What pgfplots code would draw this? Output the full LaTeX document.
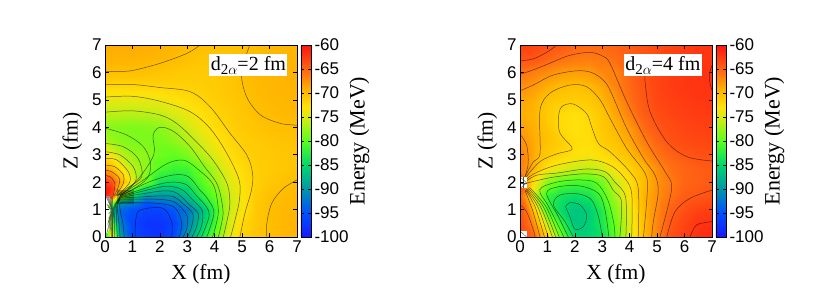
\documentclass[border=0pt]{standalone}
\usepackage{pgfplots}
\pgfplotsset{compat=1.18}
\usepackage{fontspec}
\setmainfont{Liberation Serif}
\newfontfamily\lsans{Liberation Sans}
\newcommand{\dsub}{d\raisebox{-4pt}{\fontsize{15}{15}\selectfont 2$\alpha$}}
\pgfplotsset{
  colormap={energy}{
    rgb255(0pt)=(25,25,255) rgb255(5pt)=(0,80,255) rgb255(10pt)=(0,150,170)
    rgb255(15pt)=(0,215,110) rgb255(18pt)=(50,240,60) rgb255(20pt)=(90,255,30)
    rgb255(25pt)=(215,235,20) rgb255(27pt)=(255,225,10) rgb255(30pt)=(255,190,0)
    rgb255(35pt)=(255,100,20) rgb255(40pt)=(255,20,15)},
  cl/.style={no marks,smooth,tension=0.55,draw=black,draw opacity=0.58,line width=0.5pt,forget plot},
  gl/.style={no marks,draw=gray!60!black,line width=0.4pt,forget plot},
  panel/.style={
    scale only axis,width=192pt,height=192pt,xmin=0,xmax=7,ymin=0,ymax=7,
    anchor=south west,axis on top,
    xtick={0,...,7},ytick={0,...,7},tick align=inside,tick pos=both,
    major tick length=3.5pt,
    xticklabel pos=bottom,yticklabel pos=left,
    tick style={black,line width=0.5pt},
    axis line style={line width=0.7pt},
    /pgf/number format/assume math mode=true,
    tick label style={font=\fontsize{17}{17}\selectfont\lsans},
    label style={font=\fontsize{21.5}{21.5}\selectfont},
    xlabel={X (fm)},ylabel={Z (fm)},
    xlabel style={at={(axis description cs:0.5,-0.125)},anchor=north},
    ylabel style={at={(axis description cs:-0.1,0.5)},anchor=south},
    colormap name=energy,point meta min=-100,point meta max=-60,
    colorbar,
    colorbar style={
      at={(1.0208,0)},anchor=south west,width=10pt,height=192pt,
      ytick={-100,-95,...,-60},tick align=inside,
      major tick length=3pt,
      ytick pos=both,yticklabel pos=right,
      /pgf/number format/assume math mode=true,
      yticklabel style={font=\fontsize{17}{17}\selectfont\lsans,/pgf/number format/fixed},
      ylabel={Energy (MeV)},
      ylabel style={font=\fontsize{22}{22}\selectfont,at={(axis description cs:7.2,0.5)},anchor=south},
    },
  },
}
\begin{document}
\begin{tikzpicture}[x=1pt,y=1pt]
\useasboundingbox (0,0) rectangle (830,291);
% ---------------- left panel
\begin{axis}[panel,at={(105pt,54pt)}]
\addplot[surf,shader=interp,point meta=explicit,mesh/rows=17,mesh/ordering=x varies,forget plot]
 table[x index=0,y index=1,meta index=2,row sep=\\,header=false]{
0 0 -85\\.25 0 -72\\.5 0 -88\\1 0 -95.5\\1.5 0 -97\\2 0 -97.5\\2.5 0 -95.6\\3 0 -90\\3.5 0 -84.2\\4 0 -79.2\\4.5 0 -74.6\\5 0 -71.6\\5.5 0 -70.6\\6 0 -69.95\\6.5 0 -69.7\\7 0 -69.5\\
0 .5 -80\\.25 .5 -78\\.5 .5 -91\\1 .5 -96\\1.5 .5 -97.5\\2 .5 -97.7\\2.5 .5 -96.2\\3 .5 -91.5\\3.5 .5 -86\\4 .5 -81\\4.5 .5 -75.4\\5 .5 -72.2\\5.5 .5 -70.7\\6 .5 -69.95\\6.5 .5 -69.6\\7 .5 -69.4\\
0 1 -75\\.25 1 -85\\.5 1 -93\\1 1 -95\\1.5 1 -96.3\\2 1 -96.2\\2.5 1 -94.5\\3 1 -92.5\\3.5 1 -87.5\\4 1 -81.6\\4.5 1 -76\\5 1 -73.2\\5.5 1 -70.9\\6 1 -69.95\\6.5 1 -69.7\\7 1 -69.6\\
0 1.25 -75\\.25 1.25 -78\\.5 1.25 -90\\1 1.25 -92\\1.5 1.25 -94.8\\2 1.25 -93.6\\2.5 1.25 -92.4\\3 1.25 -89.6\\3.5 1.25 -85\\4 1.25 -80.6\\4.5 1.25 -76\\5 1.25 -73.4\\5.5 1.25 -71\\6 1.25 -70.05\\6.5 1.25 -69.8\\7 1.25 -69.65\\
0 1.5 -61\\.25 1.5 -63\\.5 1.5 -76\\1 1.5 -84\\1.5 1.5 -90\\2 1.5 -90\\2.5 1.5 -89.6\\3 1.5 -87\\3.5 1.5 -82.6\\4 1.5 -79.6\\4.5 1.5 -75.8\\5 1.5 -73.3\\5.5 1.5 -71.2\\6 1.5 -70.15\\6.5 1.5 -69.85\\7 1.5 -69.7\\
0 1.75 -60\\.25 1.75 -62\\.5 1.75 -70\\1 1.75 -80\\1.5 1.75 -85\\2 1.75 -87\\2.5 1.75 -86.8\\3 1.75 -85.2\\3.5 1.75 -81.4\\4 1.75 -78.6\\4.5 1.75 -75.4\\5 1.75 -73.1\\5.5 1.75 -71.3\\6 1.75 -70.5\\6.5 1.75 -70\\7 1.75 -69.8\\
0 2 -62\\.25 2 -64\\.5 2 -68\\1 2 -74\\1.5 2 -79\\2 2 -83.7\\2.5 2 -84\\3 2 -83.4\\3.5 2 -80.4\\4 2 -77.4\\4.5 2 -75\\5 2 -73\\5.5 2 -71.5\\6 2 -70.8\\6.5 2 -70.3\\7 2 -70.05\\
0 2.5 -68.5\\.25 2.5 -70\\.5 2.5 -72.5\\1 2.5 -76\\1.5 2.5 -78\\2 2.5 -80.5\\2.5 2.5 -81.5\\3 2.5 -81.2\\3.5 2.5 -79\\4 2.5 -76.4\\4.5 2.5 -73.9\\5 2.5 -72.4\\5.5 2.5 -71.4\\6 2.5 -71\\6.5 2.5 -70.7\\7 2.5 -70.5\\
0 3 -73\\.25 3 -74\\.5 3 -75.6\\1 3 -77.4\\1.5 3 -78\\2 3 -79.2\\2.5 3 -79.7\\3 3 -78.8\\3.5 3 -76.4\\4 3 -74.6\\4.5 3 -72.9\\5 3 -71.8\\5.5 3 -71.2\\6 3 -70.9\\6.5 3 -70.7\\7 3 -70.6\\
0 3.5 -76.5\\.25 3.5 -77.5\\.5 3.5 -78\\1 3.5 -78.6\\1.5 3.5 -78.6\\2 3.5 -78.9\\2.5 3.5 -78\\3 3.5 -76.6\\3.5 3.5 -75\\4 3.5 -73.4\\4.5 3.5 -72.3\\5 3.5 -71.4\\5.5 3.5 -71\\6 3.5 -70.6\\6.5 3.5 -70.4\\7 3.5 -70.3\\
0 4 -78\\.25 4 -78.2\\.5 4 -78.4\\1 4 -78.6\\1.5 4 -78.4\\2 4 -78\\2.5 4 -76.8\\3 4 -75.4\\3.5 4 -73.8\\4 4 -72.6\\4.5 4 -71.6\\5 4 -71\\5.5 4 -70.5\\6 4 -70.2\\6.5 4 -70.05\\7 4 -70\\
0 4.5 -76.1\\.25 4.5 -76.2\\.5 4.5 -76.2\\1 4.5 -76.3\\1.5 4.5 -76.2\\2 4.5 -75.9\\2.5 4.5 -75\\3 4.5 -74.1\\3.5 4.5 -73\\4 4.5 -72\\4.5 4.5 -71.3\\5 4.5 -70.8\\5.5 4.5 -70.1\\6 4.5 -69.9\\6.5 4.5 -69.7\\7 4.5 -69.6\\
0 5 -74.3\\.25 5 -74.3\\.5 5 -74.3\\1 5 -74.3\\1.5 5 -74.2\\2 5 -73.9\\2.5 5 -73.2\\3 5 -72.6\\3.5 5 -72\\4 5 -71.4\\4.5 5 -70.9\\5 5 -70.5\\5.5 5 -69.95\\6 5 -69.7\\6.5 5 -69.6\\7 5 -69.5\\
0 5.5 -72\\.25 5.5 -72\\.5 5.5 -72\\1 5.5 -71.9\\1.5 5.5 -71.8\\2 5.5 -71.8\\2.5 5.5 -71.7\\3 5.5 -71.6\\3.5 5.5 -71.4\\4 5.5 -71.1\\4.5 5.5 -70.7\\5 5.5 -70.2\\5.5 5.5 -69.8\\6 5.5 -69.6\\6.5 5.5 -69.5\\7 5.5 -69.4\\
0 6 -70.1\\.25 6 -70.1\\.5 6 -70.1\\1 6 -70.1\\1.5 6 -70.3\\2 6 -70.5\\2.5 6 -70.8\\3 6 -71\\3.5 6 -71.1\\4 6 -71.1\\4.5 6 -70.8\\5 6 -70\\5.5 6 -69.7\\6 6 -69.5\\6.5 6 -69.4\\7 6 -69.3\\
0 6.5 -69.4\\.25 6.5 -69.4\\.5 6.5 -69.4\\1 6.5 -69.4\\1.5 6.5 -69.5\\2 6.5 -69.6\\2.5 6.5 -69.8\\3 6.5 -70.2\\3.5 6.5 -70.6\\4 6.5 -70.8\\4.5 6.5 -70.6\\5 6.5 -70.1\\5.5 6.5 -69.8\\6 6.5 -69.6\\6.5 6.5 -69.5\\7 6.5 -69.4\\
0 7 -69\\.25 7 -69\\.5 7 -69\\1 7 -69\\1.5 7 -69.1\\2 7 -69.3\\2.5 7 -69.5\\3 7 -69.8\\3.5 7 -70\\4 7 -70.2\\4.5 7 -70.4\\5 7 -70.2\\5.5 7 -70\\6 7 -69.7\\6.5 7 -69.6\\7 7 -69.5\\
};
% darkened cell where the contours crowd
\addplot[fill=black,fill opacity=0.3,draw=none,forget plot] coordinates {(.45,1.22)(1.05,1.22)(1.05,1.72)(.45,1.72)};
% contours
\addplot[cl] coordinates {(0,6.03)(.5,6.04)(1,6.07)(2,6.33)(3,6.7)(3.46,7)};
\addplot[cl] coordinates {(5.28,7)(4.98,5.97)(5.17,5.1)(5.67,4.45)(6.4,4.14)(7,4.08)};
\addplot[cl] coordinates {(7,2.08)(6.5,1.77)(6.08,1.23)(5.9,.5)(5.9,0)};
\addplot[cl] coordinates {(0,5.55)(1,5.56)(2,5.45)(3.1,5.3)(3.83,4.75)(4.56,3.78)(5.17,2.99)(5.38,2.32)(5.34,1.71)(5.1,.86)(4.92,0)};
\addplot[cl] coordinates {(0,5.1)(1,5.13)(2,4.95)(3.1,4.57)(3.83,3.96)(4.44,3.05)(4.89,2.08)(4.9,1.35)(4.74,.62)(4.58,0)};
\addplot[cl] coordinates {(0,4.55)(1,4.6)(2,4.45)(2.6,4.15)(3.2,3.6)(3.9,2.85)(4.45,1.95)(4.55,1.2)(4.45,.6)(4.31,0)};
\addplot[cl] coordinates {(.55,1.52)(1.2,2.1)(1.78,3)(1.75,3.7)(2,4)(2.5,3.85)(3.1,3.3)(3.6,2.6)(4.1,1.9)(4.3,1)(4.25,.5)(4.13,0)};
\addplot[cl] coordinates {(.55,1.52)(1.4,2.08)(2.25,2.67)(2.86,2.8)(3.35,2.5)(3.95,1.9)(4.13,1)(4.05,.45)(3.92,0)};
\addplot[cl] coordinates {(.55,1.5)(1.64,2.02)(2.49,2.26)(3.04,2.2)(3.46,1.71)(3.7,1.45)(3.97,.95)(3.85,.4)(3.71,0)};
\addplot[cl] coordinates {(.55,1.48)(1.88,1.9)(2.49,2)(2.98,1.9)(3.34,1.5)(3.7,1.1)(3.8,.8)(3.68,.4)(3.52,0)};
\addplot[cl] coordinates {(.55,1.46)(2,1.82)(2.5,1.83)(2.85,1.7)(3.2,1.35)(3.55,.95)(3.52,.4)(3.34,0)};
\addplot[cl] coordinates {(.55,1.44)(2,1.67)(2.5,1.65)(2.75,1.5)(3.05,1.2)(3.4,.85)(3.33,.35)(3.17,0)};
\addplot[cl] coordinates {(.55,1.42)(1.3,1.46)(2,1.5)(2.5,1.47)(2.8,1.25)(3.2,.85)(3.15,.35)(3,0)};
\addplot[cl] coordinates {(.55,1.38)(1.3,1.38)(2,1.37)(2.5,1.29)(2.8,1.05)(3,.75)(2.98,.3)(2.85,0)};
\addplot[cl] coordinates {(.7,0)(.65,.5)(.55,1)(.6,1.25)(1.3,1.25)(2,1.22)(2.5,1.1)(2.72,.8)(2.8,.4)(2.7,0)};
\addplot[cl] coordinates {(1.1,0)(1.12,.6)(1.28,.98)(2.1,1.05)(2.43,.56)(2.43,0)};
% arcs above the singular point
\addplot[cl] coordinates {(0,3.97)(.79,3.72)(1.4,3.29)(1.66,2.69)(1.54,2.14)(.97,1.71)(.55,1.51)};
\addplot[cl] coordinates {(0,3.41)(.67,3.29)(1.2,2.87)(1.34,2.2)(.79,1.77)(.49,1.53)};
\addplot[cl] coordinates {(0,3.11)(.55,2.99)(1.03,2.56)(1.13,2.08)(.8,1.7)(.45,1.51)};
\addplot[cl] coordinates {(0,2.87)(.43,2.81)(.85,2.38)(.91,2.02)(.65,1.7)(.42,1.51)};
\addplot[cl] coordinates {(0,2.62)(.36,2.56)(.67,2.26)(.67,1.96)(.52,1.7)(.38,1.51)};
\addplot[cl] coordinates {(0,2.44)(.24,2.38)(.52,2.14)(.49,1.83)(.34,1.51)};
\addplot[cl] coordinates {(0,2.24)(.18,2.2)(.36,1.96)(.3,1.51)};
% dense lines near the axis, below the singular point
\addplot[cl] coordinates {(.55,0)(.5,.6)(.45,1.1)(.55,1.38)};
\addplot[cl] coordinates {(.45,0)(.42,.6)(.42,1.1)(.55,1.42)};
\addplot[cl] coordinates {(.35,0)(.35,.6)(.38,1.1)(.55,1.44)};
\addplot[cl] coordinates {(.28,0)(.3,.7)(.35,1.1)(.55,1.46)};
\addplot[cl] coordinates {(.24,0)(.28,.7)(.32,1.1)(.55,1.48)};
% white cut-out and grey fan at the axis
\addplot[fill=white,draw=none,forget plot] coordinates {(0,.15)(0,1.47)(.2,1.47)(.2,1.3)(.1,1.12)(.2,.92)(.12,.7)(.17,.4)(.1,.15)};
\addplot[gl] coordinates {(.27,.98)(.04,1.47)};
\addplot[gl] coordinates {(.27,.98)(.08,1.47)};
\addplot[gl] coordinates {(.27,.98)(.12,1.47)};
\addplot[gl] coordinates {(.27,.98)(.16,1.47)};
\addplot[gl] coordinates {(.27,.98)(.2,1.47)};
\addplot[gl] coordinates {(.27,.98)(.24,1.47)};
\addplot[gl] coordinates {(.27,.98)(.28,1.47)};
\addplot[gl] coordinates {(.27,.98)(.06,1.2)};
\addplot[gl] coordinates {(.27,.98)(.1,1.1)};
\addplot[gl] coordinates {(.27,.98)(.14,.85)};
\addplot[gl] coordinates {(.27,.98)(.16,.7)};
\addplot[gl] coordinates {(.27,.98)(.12,.55)};
\addplot[gl] coordinates {(.27,.98)(.1,.45)};
\addplot[gl] coordinates {(.27,.98)(.14,.3)};
\addplot[gl] coordinates {(.27,.98)(.18,.2)};
\addplot[gl] coordinates {(.27,.98)(.22,.1)};
\addplot[gl] coordinates {(.27,.98)(.27,0)};
\addplot[gl] coordinates {(.27,.98)(.07,.15)};
\addplot[gray!60,line width=1pt,no marks,forget plot] coordinates {(0,0)(0,7)};
\node[fill=white,inner sep=1.5pt,font=\fontsize{20}{20}\selectfont] at (axis cs:5.23,6.27) {\dsub=2 fm};
\end{axis}
% ---------------- right panel
\begin{axis}[panel,at={(520pt,54pt)}]
\addplot[surf,shader=interp,point meta=explicit,mesh/rows=15,mesh/ordering=x varies,forget plot]
 table[x index=0,y index=1,meta index=2,row sep=\\,header=false]{
0 0 -63\\.25 0 -64\\.5 0 -65.5\\1 0 -71.4\\1.5 0 -79\\2 0 -85\\2.5 0 -85.2\\3 0 -84\\3.5 0 -79.6\\4 0 -74.6\\4.5 0 -70\\5 0 -66.7\\5.5 0 -63.7\\6 0 -62.5\\6.5 0 -61.7\\7 0 -61.3\\
0 .5 -63.5\\.25 .5 -65\\.5 .5 -67.6\\1 .5 -76\\1.5 .5 -82\\2 .5 -86.3\\2.5 .5 -85.5\\3 .5 -83.2\\3.5 .5 -79\\4 .5 -74.4\\4.5 .5 -70\\5 .5 -66.8\\5.5 .5 -64.2\\6 .5 -63\\6.5 .5 -62\\7 .5 -61.8\\
0 1 -64\\.25 1 -66\\.5 1 -71\\1 1 -80.5\\1.5 1 -84.7\\2 1 -86.5\\2.5 1 -85.8\\3 1 -82.8\\3.5 1 -78\\4 1 -74\\4.5 1 -69.8\\5 1 -67\\5.5 1 -64.8\\6 1 -63.6\\6.5 1 -62.9\\7 1 -62.6\\
0 1.5 -65\\.25 1.5 -69\\.5 1.5 -75.5\\1 1.5 -81.8\\1.5 1.5 -83.8\\2 1.5 -84.4\\2.5 1.5 -83.5\\3 1.5 -80.8\\3.5 1.5 -76.6\\4 1.5 -73\\4.5 1.5 -69.6\\5 1.5 -67.4\\5.5 1.5 -65.6\\6 1.5 -64.5\\6.5 1.5 -64.2\\7 1.5 -63.8\\
0 2 -62\\.25 2 -68.5\\.5 2 -73\\1 2 -78\\1.5 2 -80.2\\2 2 -81\\2.5 2 -81\\3 2 -79\\3.5 2 -75.5\\4 2 -72.8\\4.5 2 -70\\5 2 -67.6\\5.5 2 -66.2\\6 2 -65\\6.5 2 -64.7\\7 2 -64.3\\
0 2.5 -66.5\\.25 2.5 -67.5\\.5 2.5 -69.5\\1 2.5 -73\\1.5 2.5 -74.4\\2 2.5 -75.6\\2.5 2.5 -76\\3 2.5 -75\\3.5 2.5 -73.1\\4 2.5 -71.6\\4.5 2.5 -69.8\\5 2.5 -67.2\\5.5 2.5 -65.7\\6 2.5 -65\\6.5 2.5 -64.6\\7 2.5 -64.4\\
0 3 -66.5\\.25 3 -67.5\\.5 3 -69\\1 3 -71\\1.5 3 -72\\2 3 -72.9\\2.5 3 -73.4\\3 3 -72.6\\3.5 3 -71.4\\4 3 -70\\4.5 3 -67.9\\5 3 -65.9\\5.5 3 -64.9\\6 3 -64.1\\6.5 3 -63.8\\7 3 -63.7\\
0 3.5 -67.3\\.25 3.5 -67.9\\.5 3.5 -69\\1 3.5 -70.3\\1.5 3.5 -71.4\\2 3.5 -72.6\\2.5 3.5 -72.7\\3 3.5 -71.2\\3.5 3.5 -70.3\\4 3.5 -68.6\\4.5 3.5 -66.5\\5 3.5 -65\\5.5 3.5 -63.8\\6 3.5 -63.4\\6.5 3.5 -63.2\\7 3.5 -63.1\\
0 4 -68.4\\.25 4 -68.7\\.5 4 -69.3\\1 4 -70.6\\1.5 4 -72.4\\2 4 -73\\2.5 4 -72.4\\3 4 -70.8\\3.5 4 -69.4\\4 4 -67.8\\4.5 4 -65.4\\5 4 -64.1\\5.5 4 -63.5\\6 4 -63\\6.5 4 -62.8\\7 4 -62.7\\
0 4.5 -69.2\\.25 4.5 -69.3\\.5 4.5 -69.6\\1 4.5 -71\\1.5 4.5 -72.4\\2 4.5 -73\\2.5 4.5 -72\\3 4.5 -70.6\\3.5 4.5 -68.6\\4 4.5 -66.4\\4.5 4.5 -64.6\\5 4.5 -63.6\\5.5 4.5 -63\\6 4.5 -62.7\\6.5 4.5 -62.5\\7 4.5 -62.4\\
0 5 -68.8\\.25 5 -68.8\\.5 5 -69.3\\1 5 -70.5\\1.5 5 -71\\2 5 -71.3\\2.5 5 -70.9\\3 5 -69.6\\3.5 5 -67.8\\4 5 -65.6\\4.5 5 -64.2\\5 5 -63.2\\5.5 5 -62.7\\6 5 -62.4\\6.5 5 -62.2\\7 5 -62.1\\
0 5.5 -67.4\\.25 5.5 -67.6\\.5 5.5 -68\\1 5.5 -69.1\\1.5 5.5 -69.9\\2 5.5 -70.1\\2.5 5.5 -69.8\\3 5.5 -68.7\\3.5 5.5 -66.6\\4 5.5 -65.2\\4.5 5.5 -64\\5 5.5 -63\\5.5 5.5 -62.5\\6 5.5 -62.2\\6.5 5.5 -62\\7 5.5 -61.9\\
0 6 -65.8\\.25 6 -66\\.5 6 -66.5\\1 6 -67.2\\1.5 6 -68\\2 6 -68.2\\2.5 6 -68\\3 6 -67\\3.5 6 -66.6\\4 6 -65\\4.5 6 -64\\5 6 -63\\5.5 6 -62.5\\6 6 -62.2\\6.5 6 -62\\7 6 -61.9\\
0 6.5 -63.8\\.25 6.5 -64\\.5 6.5 -64.1\\1 6.5 -65\\1.5 6.5 -65.7\\2 6.5 -66.2\\2.5 6.5 -66.4\\3 6.5 -66.1\\3.5 6.5 -65.5\\4 6.5 -64.7\\4.5 6.5 -64\\5 6.5 -63.4\\5.5 6.5 -62.9\\6 6.5 -62.5\\6.5 6.5 -62.2\\7 6.5 -62.1\\
0 7 -62.5\\.25 7 -62.7\\.5 7 -63\\1 7 -63.7\\1.5 7 -64.2\\2 7 -65\\2.5 7 -65.3\\3 7 -65.2\\3.5 7 -64.9\\4 7 -64.5\\4.5 7 -64\\5 7 -63.5\\5.5 7 -63\\6 7 -62.6\\6.5 7 -62.3\\7 7 -62.2\\
};
\addplot[cl] coordinates {(7,.56)(6.44,.44)(6.2,0)};
\addplot[cl] coordinates {(7,6.25)(6.92,6)(6.92,5.65)(7,5.35)};
\addplot[cl] coordinates {(0,6.42)(.5,6.5)(1,6.75)(1.35,7)};
\addplot[cl] coordinates {(4.56,6)(4.56,5.66)(4.74,4.57)(5.35,3.47)(6.08,2.93)(7,2.77)};
\addplot[cl] coordinates {(7,1.71)(6.2,1.41)(5.65,.92)(5.35,0)};
\addplot[cl] coordinates {(0,5.93)(.5,6.1)(1,6.3)(1.8,6.62)(2.55,6.73)(3,6.6)(3.28,6.33)(3.89,4.93)(4.62,3.47)(5.29,2.38)(5.53,1.9)(5.41,1.17)(5.1,0)};
\addplot[cl] coordinates {(0,1.17)(.24,.92)(.49,.25)(.55,0)};
\addplot[cl] coordinates {(0,5.33)(.5,5.55)(1.2,5.9)(2.07,6.06)(2.6,6)(3,5.75)(3.28,5.36)(3.89,3.96)(4.5,2.87)(4.92,2.26)(5.04,1.65)(4.86,.56)(4.8,0)};
\addplot[cl] coordinates {(0,3.75)(.24,3.35)(.3,2.69)(.18,2.2)(.1,2.05)};
\addplot[cl] coordinates {(.18,1.7)(.45,1)(.65,.3)(.73,0)};
\addplot[cl] coordinates {(.1,2.03)(.18,2.2)(.49,2.75)(.73,3.05)(.73,4.63)(1.09,5.24)(1.82,5.54)(2.43,5.48)(2.92,5)(3.28,4.33)(3.89,3.23)(4.56,2.32)(4.64,1.65)(4.5,0)};
\addplot[cl] coordinates {(.2,1.72)(.55,1.1)(.89,0)};
\addplot[cl] coordinates {(.1,2)(.18,2.14)(.73,2.75)(1.34,3.03)(1.82,3.15)(1.88,3.29)(1.46,3.78)(1.4,4.33)(1.52,4.75)(1.94,4.85)(2.43,4.5)(2.61,4.02)(2.86,3.41)(3.28,3.11)(4,2.38)(4.31,1.77)(4.31,0)};
\addplot[cl] coordinates {(.22,1.74)(.65,1.1)(1.03,0)};
\addplot[cl] coordinates {(.1,1.98)(.5,2.3)(1.34,2.62)(2.55,2.81)(3.28,2.62)(3.77,2.2)(4.07,1.6)(4.07,0)};
\addplot[cl] coordinates {(.25,1.76)(.75,1.1)(1.18,0)};
\addplot[cl] coordinates {(.12,1.96)(.6,2.25)(1.34,2.33)(2.43,2.48)(3.1,2.38)(3.46,2)(3.85,1.45)(3.86,0)};
\addplot[cl] coordinates {(.3,1.78)(.85,1.1)(1.3,0)};
\addplot[cl] coordinates {(.15,1.94)(.8,2.1)(1.34,2.2)(2.31,2.3)(3.04,2.2)(3.4,1.7)(3.7,1.29)(3.64,0)};
\addplot[cl] coordinates {(.35,1.8)(.95,1.1)(1.43,0)};
\addplot[cl] coordinates {(1.6,0)(1.05,1.1)(.72,1.72)(1.34,2)(2.19,2.08)(2.8,1.96)(3.2,1.35)(3.42,.5)(3.46,0)};
\addplot[cl] coordinates {(1.76,0)(1.4,.74)(.97,1.59)(1.4,1.83)(2.19,1.86)(2.86,1.59)(3.1,.98)(3.24,0)};
\addplot[cl] coordinates {(1.94,0)(1.64,.56)(1.22,1.17)(1.46,1.53)(2.13,1.57)(2.61,1.35)(2.86,.74)(3,0)};
\addplot[cl] coordinates {(1.66,1.1)(1.82,1.25)(2.19,1.17)(2.43,.8)(2.31,.38)(2,.29)(1.82,.74)(1.66,1.1)};
% white cells with grey diagonals
\addplot[fill=white,draw=none,forget plot] coordinates {(0,1.77)(.24,1.77)(.24,2.2)(0,2.2)};
\addplot[gl] coordinates {(0,2.2)(.24,1.97)(0,1.77)};
\addplot[gl] coordinates {(0,1.97)(.24,1.97)};
\addplot[gl] coordinates {(.12,2.2)(.12,1.77)};
\addplot[fill=white,draw=none,forget plot] coordinates {(0,0)(.24,0)(.24,.22)(0,.22)};
\addplot[gl] coordinates {(0,.22)(.24,0)};
\addplot[gray!60,line width=1pt,no marks,forget plot] coordinates {(0,0)(0,7)};
\node[fill=white,inner sep=1.5pt,font=\fontsize{20}{20}\selectfont] at (axis cs:5.21,6.27) {\dsub=4 fm};
\end{axis}
\end{tikzpicture}
\end{document}
